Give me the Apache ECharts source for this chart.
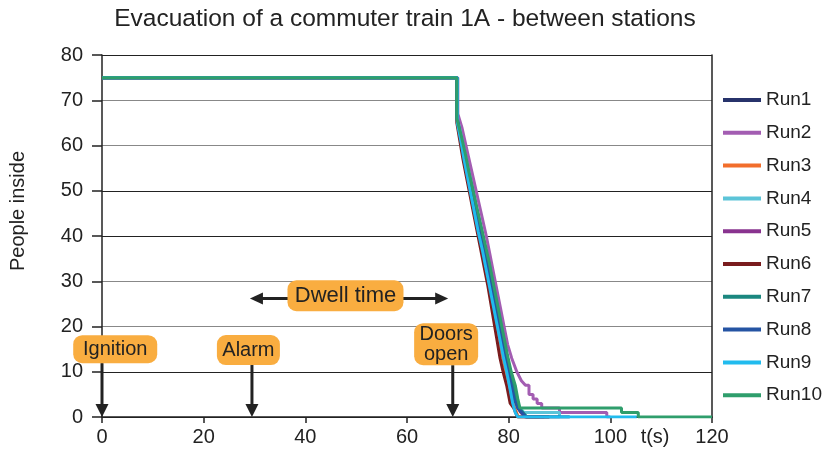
<!DOCTYPE html>
<html><head><meta charset="utf-8">
<script src="https://cdn.jsdelivr.net/npm/echarts@6/dist/echarts.min.js"></script>
<style>html,body{margin:0;padding:0;background:#fff}#c{width:827px;height:456px}</style>
</head><body><div id="c"></div>
<script>
// ---- data ----
const titleText = 'Evacuation of a commuter train 1A - between stations';
const yName = 'People inside';
const xUnit = 't(s)';
const runNames = ['Run1','Run2','Run3','Run4','Run5','Run6','Run7','Run8','Run9','Run10'];
const run1 = [[0,75],[69.9,75],[69.9,66],[70.6,62],[71.3,58],[72.0,54],[72.7,50],[73.5,46],[74.3,42],[75.1,38],[75.8,34],[76.5,30],[77.2,26],[77.9,22],[78.6,18],[79.3,14],[80.0,10],[80.6,7],[81.2,4],[81.8,2],[82.4,1],[83.5,0],[88,0]];
const run2 = [[0,75],[70.0,75],[70.0,67],[70.8,64],[71.6,60],[72.4,56],[73.2,52],[74.0,48],[74.8,44],[75.6,40],[76.3,36],[77.0,32],[77.7,28],[78.4,24],[79.1,20],[79.8,16],[80.6,13],[81.6,10],[82.5,8],[83.3,7],[84.0,7],[84.0,5],[84.8,5],[84.8,4],[85.6,4],[85.6,3],[86.5,3],[86.5,2],[90.0,2],[90.0,1],[99.3,1],[99.3,0],[100,0]];
const run3 = [[0,75],[69.8,75],[69.8,66],[70.5,62],[71.1,58],[71.8,54],[72.5,50],[73.2,46],[73.9,42],[74.7,38],[75.4,34],[76.1,30],[76.8,26],[77.4,22],[78.0,18],[78.7,14],[79.4,10],[80.0,7],[80.6,4],[81.2,2],[81.9,0],[86,0]];
const run4 = [[0,75],[69.9,75],[69.9,66],[70.7,62],[71.4,58],[72.1,54],[72.9,50],[73.7,46],[74.5,42],[75.3,38],[76.0,34],[76.8,30],[77.5,26],[78.2,22],[78.9,18],[79.6,14],[80.3,10],[80.9,7],[81.5,4],[82.2,2],[83.0,1],[90.0,1],[90.0,0],[92,0]];
const run5 = [[0,75],[69.9,75],[69.9,65],[70.6,61],[71.4,57],[72.1,53],[72.9,49],[73.6,45],[74.4,41],[75.2,37],[75.9,33],[76.6,29],[77.3,25],[78.0,21],[78.7,17],[79.4,13],[80.0,10],[80.7,7],[81.3,4],[81.9,2],[82.5,1],[83.2,0],[87,0]];
const run6 = [[0,75],[69.8,75],[69.8,65],[70.4,61],[71.0,57],[71.7,53],[72.4,49],[73.1,45],[73.8,41],[74.5,37],[75.2,33],[75.9,29],[76.5,25],[77.1,21],[77.7,17],[78.3,13],[78.9,10],[79.6,7],[80.3,3],[81.0,2],[81.7,0],[88,0]];
const run7 = [[0,75],[69.8,75],[69.8,66],[70.6,62],[71.4,58],[72.2,54],[73.0,50],[73.7,46],[74.5,42],[75.3,38],[76.1,34],[76.8,30],[77.5,26],[78.2,22],[78.9,18],[79.6,14],[80.3,10],[80.9,7],[81.5,4],[82.0,2],[82.8,1],[83.6,0],[90,0]];
const run8 = [[0,75],[69.9,75],[69.9,66],[70.5,62],[71.2,58],[71.9,54],[72.6,50],[73.4,46],[74.2,42],[74.9,38],[75.7,34],[76.4,30],[77.1,26],[77.8,22],[78.5,18],[79.2,14],[79.9,10],[80.5,7],[81.1,4],[81.8,2],[82.6,1],[83.4,0],[92,0]];
const run9 = [[0,75],[69.9,75],[69.9,65],[70.6,61],[71.2,57],[71.9,53],[72.6,49],[73.3,45],[74.0,41],[74.8,37],[75.5,33],[76.2,29],[76.9,25],[77.6,21],[78.3,17],[79.0,13],[79.6,10],[80.3,6],[80.8,3],[81.3,1],[81.8,0],[105.2,0]];
const run10 = [[0,75],[69.8,75],[69.8,66],[70.7,62],[71.5,58],[72.2,54],[73.0,50],[73.8,46],[74.6,42],[75.4,38],[76.2,34],[76.9,30],[77.6,26],[78.3,22],[79.0,18],[79.7,14],[80.5,10],[81.3,7],[81.8,4],[82.2,2],[102.2,2],[102.2,1],[105.5,1],[105.5,0],[120,0]];
const runs = [run1,run2,run3,run4,run5,run6,run7,run8,run9,run10];
const runColors = ['#27336b','#a35db2','#f26e2c','#5cc4d8','#89338f','#7a1c1e','#1b877f','#2554a3','#21bbee','#2f9e6c'];
const eventNames = ['Ignition','Alarm','Doors\nopen'];
const eventTimes = [0, 29.5, 69];
const dwellLabel = 'Dwell time';
const dwellRange = [29.1, 68.1];

// ---- chart ----
const FONT = '"Liberation Sans", Arial, sans-serif';
const INK = '#222';
const chart = echarts.init(document.getElementById('c'), null, {renderer:'canvas'});
chart.setOption({
  animation:false,
  backgroundColor:'#fff',
  textStyle:{fontFamily:FONT},
  grid:{left:102,right:115,top:55,bottom:39,containLabel:false,outerBoundsMode:'none'},
  legend:{
    data:runNames, orient:'vertical', left:723, top:90, itemGap:12.8, padding:0,
    icon:'rect', itemWidth:38, itemHeight:4,
    textStyle:{fontSize:19,color:INK,fontFamily:FONT,lineHeight:20}
  },
  xAxis:{
    type:'value', min:0, max:120, interval:20,
    axisLine:{show:true,lineStyle:{color:INK,width:1.5}},
    axisTick:{show:true,length:6,lineStyle:{color:INK,width:1.5}},
    axisLabel:{fontSize:20,color:INK,margin:10,fontFamily:FONT},
    splitLine:{show:false}
  },
  yAxis:[{
    type:'value', min:0, max:80, interval:10, position:'left',
    axisLine:{show:true,lineStyle:{color:INK,width:1.5}},
    axisTick:{show:true,length:10,lineStyle:{color:INK,width:1.5}},
    axisLabel:{fontSize:20,color:INK,margin:19,fontFamily:FONT},
    splitLine:{show:true,lineStyle:{color:['#222','#222','#888','#888'],width:1.2}}
  },{
    type:'value', min:0, max:80, interval:10, position:'right',
    axisLine:{show:true,lineStyle:{color:INK,width:1.5}},
    axisTick:{show:false}, axisLabel:{show:false}, splitLine:{show:false}
  }],
  series: runs.map((d,i)=>({
    name:runNames[i], type:'line', data:d, showSymbol:false, symbol:'none',
    color:runColors[i], lineStyle:{width:3,color:runColors[i]},
    itemStyle:{color:runColors[i]}, z:2+i
  }))
});

// ---- annotations ----
function px(t,v){ return chart.convertToPixel({xAxisIndex:0,yAxisIndex:0},[t,v]); }
const BOX = '#f9ad40';
const g = [];
g.push({type:'text', x:405, y:19, style:{text:titleText, fontSize:24.5, fontFamily:FONT, fill:INK, align:'center', verticalAlign:'middle'}});
g.push({type:'text', x:18, y:211, rotation:Math.PI/2, style:{text:yName, fontSize:20, fontFamily:FONT, fill:INK, align:'center', verticalAlign:'middle'}});
const axisY = px(0,0)[1];
const tu = px(108.8,0);
g.push({type:'text', x:tu[0], y:axisY+10, style:{text:xUnit, fontSize:20, fontFamily:FONT, fill:INK, align:'center', verticalAlign:'top'}});

function box(cx, cy, w, h, text, fs){
  g.push({type:'rect', shape:{x:cx-w/2, y:cy-h/2, width:w, height:h, r:9}, style:{fill:BOX}, z:10});
  g.push({type:'text', x:cx, y:cy, style:{text:text, fontSize:fs, fontFamily:FONT, fill:INK, align:'center', verticalAlign:'middle', lineHeight:20}, z:11});
}
function downArrow(x, y1, y2){
  g.push({type:'line', shape:{x1:x,y1:y1,x2:x,y2:y2-10}, style:{stroke:INK,lineWidth:3}, z:10});
  g.push({type:'polygon', shape:{points:[[x-6.5,y2-13],[x+6.5,y2-13],[x,y2]]}, style:{fill:INK}, z:10});
}
const boxLayout = [
  {ct:2.6, cv:15.0, w:84, h:28},
  {ct:28.8, cv:14.8, w:63, h:30},
  {ct:67.7, cv:16.1, w:64, h:42}
];
eventNames.forEach((name,i)=>{
  const L = boxLayout[i];
  const c = px(L.ct, L.cv);
  const ex = px(eventTimes[i],0)[0];
  downArrow(ex, c[1]+L.h/2, axisY);
  box(c[0], c[1], L.w, L.h, name, 20);
});
const dl = px(dwellRange[0], 26.2), dr = px(dwellRange[1], 26.2);
const ay = dl[1];
g.push({type:'line', shape:{x1:dl[0]+10,y1:ay,x2:dr[0]-10,y2:ay}, style:{stroke:INK,lineWidth:3}, z:10});
g.push({type:'polygon', shape:{points:[[dl[0],ay],[dl[0]+13,ay-6],[dl[0]+13,ay+6]]}, style:{fill:INK}, z:10});
g.push({type:'polygon', shape:{points:[[dr[0],ay],[dr[0]-13,ay-6],[dr[0]-13,ay+6]]}, style:{fill:INK}, z:10});
const dc = px(47.9, 26.8);
box(dc[0], dc[1], 116, 31, dwellLabel, 22);

chart.setOption({graphic:g});
</script>
</body></html>
